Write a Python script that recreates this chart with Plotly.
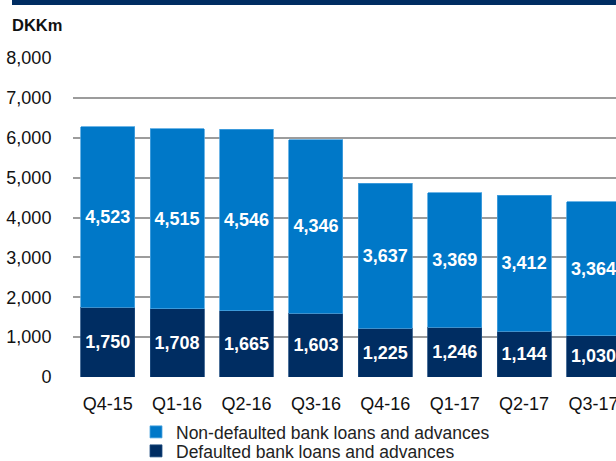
import plotly.graph_objects as go

quarters = ["Q4-15", "Q1-16", "Q2-16", "Q3-16", "Q4-16", "Q1-17", "Q2-17", "Q3-17"]
defaulted = [1750, 1708, 1665, 1603, 1225, 1246, 1144, 1030]
non_defaulted = [4523, 4515, 4546, 4346, 3637, 3369, 3412, 3364]
y_ticks = [0, 1000, 2000, 3000, 4000, 5000, 6000, 7000, 8000]

NAVY = "#002D62"
BLUE = "#0078C8"
FONT = "Liberation Sans, Arial, sans-serif"
LABEL_FONT = dict(family=FONT, size=18, color="white", weight="bold")

fig = go.Figure()
fig.add_trace(go.Bar(
    x=quarters, y=defaulted, name="Defaulted bank loans and advances",
    legend="legend2",
    marker=dict(color=NAVY, line=dict(width=0.8, color="#1F4C80")),
    texttemplate="%{y:,.0f}", textposition="inside", insidetextanchor="middle",
    textangle=0, constraintext="none", textfont=LABEL_FONT,
))
fig.add_trace(go.Bar(
    x=quarters, y=non_defaulted, name="Non-defaulted bank loans and advances",
    legend="legend",
    marker=dict(color=BLUE, line=dict(width=0.8, color="#4AA3E0")),
    texttemplate="%{y:,.0f}", textposition="inside", insidetextanchor="middle",
    textangle=0, constraintext="none", textfont=LABEL_FONT,
))

legend_common = dict(
    orientation="v", xref="container", yref="container",
    x=136 / 616, xanchor="left", yanchor="top",
    font=dict(family=FONT, size=17.5, color="#222222"),
    bgcolor="rgba(0,0,0,0)", itemclick=False,
)

fig.update_layout(
    width=616, height=461,
    margin=dict(l=73, r=0, t=58, b=84, pad=0, autoexpand=False),
    paper_bgcolor="white", plot_bgcolor="white",
    barmode="stack", bargap=0.223,
    font=dict(family=FONT, size=18, color="#111111"),
    showlegend=True,
    legend=dict(legend_common, y=(461 - 414) / 461),
    legend2=dict(legend_common, y=(461 - 433) / 461),
    xaxis=dict(
        range=[-0.5, 7.324], showgrid=False, zeroline=False, showline=False,
        ticks="outside", ticklen=10, tickcolor="rgba(0,0,0,0)",
        tickfont=dict(family=FONT, size=18, color="#111111"),
        automargin=False,
    ),
    yaxis=dict(
        range=[0, 8000], tickvals=y_ticks, tickformat=",d",
        showgrid=True, gridcolor="#9C9C9C", gridwidth=1.5,
        zeroline=False, showline=False,
        ticks="outside", ticklen=17, tickcolor="rgba(0,0,0,0)",
        tickfont=dict(family=FONT, size=18, color="#111111"),
        automargin=False,
    ),
    shapes=[
        dict(type="rect", xref="paper", yref="paper",
             x0=(12 - 73) / 543, x1=1.0,
             y0=(377 - 5) / 319, y1=(377 - 0) / 319,
             fillcolor=NAVY, line=dict(width=0), layer="above"),
    ],
    annotations=[
        dict(text="<b>DKKm</b>", xref="paper", yref="paper",
             x=(10 - 73) / 543, xanchor="left",
             y=(377 - 25) / 319, yanchor="middle",
             showarrow=False, font=dict(family=FONT, size=16.5, color="#111111")),
    ],
)

fig.write_html("out.html")
